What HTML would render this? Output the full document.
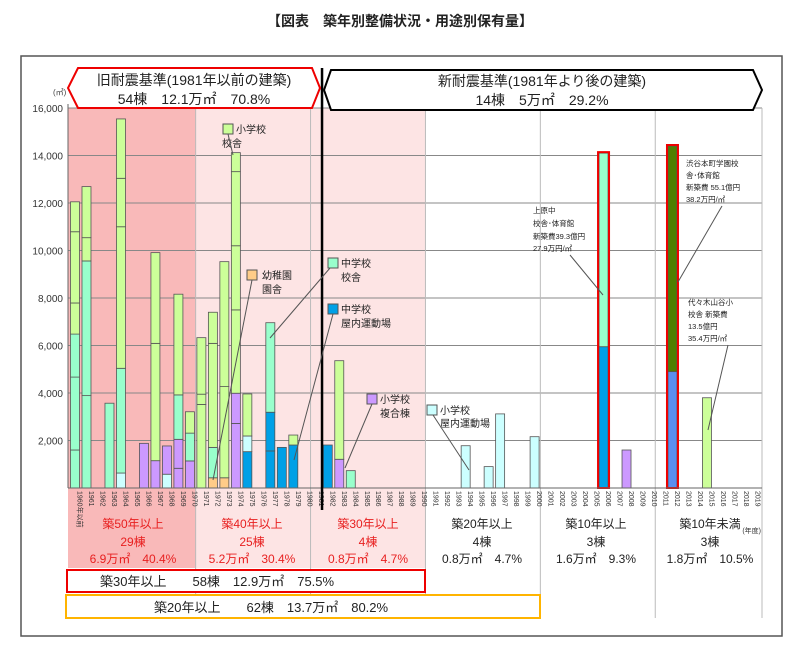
<!DOCTYPE html>
<html><head><meta charset="utf-8">
<style>
body{margin:0;background:#fff;}
svg{display:block;font-family:"Liberation Sans","Noto Sans CJK JP",sans-serif;}
</style></head>
<body>
<svg id="chart" width="800" height="658" viewBox="0 0 800 658" xmlns="http://www.w3.org/2000/svg">
<text x="400" y="26" text-anchor="middle" font-size="14" font-weight="bold" fill="#222">【図表　築年別整備状況・用途別保有量】</text>
<rect x="21" y="56" width="761" height="580" fill="none" stroke="#555" stroke-width="1.5"/>
<g id="bg"></g>
<g id="grid"></g>
<g id="bars"></g>
<g id="axes"></g>
<!-- headers -->
<polygon points="78,68 312,68 320,88 312,108 78,108 68,88" fill="#fff" stroke="#e00" stroke-width="2"/>
<text x="194" y="85" text-anchor="middle" font-size="14" fill="#222">旧耐震基準(1981年以前の建築)</text>
<text x="194" y="104" text-anchor="middle" font-size="14" fill="#222">54棟　12.1万㎡　70.8%</text>
<polygon points="331,70 753,70 762,90 753,110 331,110 324,90" fill="#fff" stroke="#000" stroke-width="2"/>
<text x="542" y="86" text-anchor="middle" font-size="14" fill="#222">新耐震基準(1981年より後の建築)</text>
<text x="542" y="105" text-anchor="middle" font-size="14" fill="#222">14棟　5万㎡　29.2%</text>
<!-- legend annotations -->
<g font-size="10" fill="#222">
<g><rect x="223" y="124" width="10" height="10" fill="#ccff99" stroke="#555"/><text x="236" y="133">小学校</text><text x="222" y="147">校舎</text><line x1="228" y1="134" x2="233" y2="155" stroke="#555"/></g>
<g><rect x="247" y="270" width="10" height="10" fill="#ffcc88" stroke="#555"/><text x="262" y="279">幼稚園</text><text x="262" y="293">園舎</text><line x1="252" y1="280" x2="213" y2="480" stroke="#555"/></g>
<g><rect x="328" y="258" width="10" height="10" fill="#99ffcc" stroke="#555"/><text x="341" y="267">中学校</text><text x="341" y="281">校舎</text><line x1="330" y1="268" x2="270" y2="338" stroke="#555"/></g>
<g><rect x="328" y="304" width="10" height="10" fill="#00a0e6" stroke="#555"/><text x="341" y="313">中学校</text><text x="341" y="327">屋内運動場</text><line x1="333" y1="314" x2="294" y2="460" stroke="#555"/></g>
<g><rect x="367" y="394" width="10" height="10" fill="#cc99ff" stroke="#555"/><text x="380" y="403">小学校</text><text x="380" y="417">複合棟</text><line x1="372" y1="404" x2="345" y2="468" stroke="#555"/></g>
<g><rect x="427" y="405" width="10" height="10" fill="#ccffff" stroke="#555"/><text x="440" y="414">小学校</text><text x="440" y="427">屋内運動場</text><line x1="433" y1="415" x2="469" y2="470" stroke="#555"/></g>
<g font-size="7.5"><text x="533" y="213">上原中</text><text x="533" y="226">校舎･体育館</text><text x="533" y="239">新築費39.3億円</text><text x="533" y="251">27.9万円/㎡</text><line x1="570" y1="255" x2="603" y2="295" stroke="#555"/></g>
<g font-size="7.5"><text x="686" y="166">渋谷本町学園校</text><text x="686" y="178">舎･体育館</text><text x="686" y="190">新築費 55.1億円</text><text x="686" y="202">38.2万円/㎡</text><line x1="722" y1="206" x2="678" y2="282" stroke="#555"/></g>
<g font-size="7.5"><text x="688" y="305">代々木山谷小</text><text x="688" y="317">校舎 新築費</text><text x="688" y="329">13.5億円</text><text x="688" y="341">35.4万円/㎡</text><line x1="728" y1="345" x2="708" y2="430" stroke="#555"/></g>
</g>
<!-- bottom age groups -->
<g font-size="12" text-anchor="middle">
<g fill="#e82020"><text x="133" y="528">築50年以上</text><text x="133" y="546">29棟</text><text x="133" y="563">6.9万㎡　40.4%</text></g>
<g fill="#e82020"><text x="252" y="528">築40年以上</text><text x="252" y="546">25棟</text><text x="252" y="563">5.2万㎡　30.4%</text></g>
<g fill="#e82020"><text x="368" y="528">築30年以上</text><text x="368" y="546">4棟</text><text x="368" y="563">0.8万㎡　4.7%</text></g>
<g fill="#222"><text x="482" y="528">築20年以上</text><text x="482" y="546">4棟</text><text x="482" y="563">0.8万㎡　4.7%</text></g>
<g fill="#222"><text x="596" y="528">築10年以上</text><text x="596" y="546">3棟</text><text x="596" y="563">1.6万㎡　9.3%</text></g>
<g fill="#222"><text x="710" y="528">築10年未満</text><text x="710" y="546">3棟</text><text x="710" y="563">1.8万㎡　10.5%</text></g>
</g>
<rect x="67" y="570" width="358" height="22" fill="#fff" stroke="#e00" stroke-width="2"/>
<text x="100" y="586" font-size="13" fill="#222">築30年以上　　58棟　12.9万㎡　75.5%</text>
<rect x="66" y="595" width="474" height="23" fill="#fff" stroke="#ffb400" stroke-width="2"/>
<text x="154" y="612" font-size="13" fill="#222">築20年以上　　62棟　13.7万㎡　80.2%</text>
</svg>
<script>
const years = [];
for (let y = 1960; y <= 2019; y++) years.push(y);
const yTicks = [2000, 4000, 6000, 8000, 10000, 12000, 14000, 16000];
const tickLabels = ["2,000", "4,000", "6,000", "8,000", "10,000", "12,000", "14,000", "16,000"];
const barYears = [1960,1961,1963,1964,1966,1967,1968,1969,1970,1971,1972,1973,1974,1975,1977,1978,1979,1982,1983,1984,1994,1996,1997,2000,2006,2008,2012,2015];
const barSegments = [
 [["t",1600],["t",3070],["t",1810],["g",1310],["g",3000],["g",1260]],
 [["t",3890],["t",5670],["g",980],["g",2150]],
 [["t",3570]],
 [["c",630],["t",4410],["g",5960],["g",2040],["g",2500]],
 [["p",1880]],
 [["p",1150],["g",4940],["g",3820]],
 [["c",580],["p",1190]],
 [["p",830],["p",1220],["t",1870],["g",4240]],
 [["p",1140],["t",1170],["g",900]],
 [["g",3520],["g",430],["g",2380]],
 [["o",430],["t",1280],["g",4380],["g",1310]],
 [["o",430],["g",3840],["g",5260]],
 [["p",2720],["p",1270],["g",3510],["g",2700],["g",3120],["g",800]],
 [["b",1530],["c",660],["g",1770]],
 [["b",1560],["b",1630],["t",3770]],
 [["b",1710]],
 [["b",1810],["g",420]],
 [["b",1810]],
 [["p",1210],["g",4150]],
 [["t",730]],
 [["c",1780]],
 [["c",900]],
 [["c",3120]],
 [["c",2160]],
 [["b",5950],["t",8150]],
 [["p",1600]],
 [["n",4900],["d",9500]],
 [["g",3800]]
];
const highlighted = [2006, 2012];
const colors = {g:"#ccff99",t:"#99ffcc",b:"#00a0e6",p:"#cc99ff",c:"#ccffff",o:"#ffcc88",d:"#4f7f00",n:"#5b8ef0"};

const NS = "http://www.w3.org/2000/svg";
const X0 = 75, DX = 11.49, Y0 = 488, YPX = 47.5 / 2000;
const xs = yr => X0 + (yr - 1960) * DX;
const ys = v => Y0 - v * YPX;
function mk(parent, tag, attrs) {
  const e = document.createElementNS(NS, tag);
  for (const k in attrs) e.setAttribute(k, attrs[k]);
  parent.appendChild(e);
  return e;
}
const bg = document.getElementById('bg'), grid = document.getElementById('grid'),
      bars = document.getElementById('bars'), axes = document.getElementById('axes');
const L = 68, R = 762, TOP = 108;
let r1 = mk(bg, 'rect', {x: L, y: TOP, width: xs(1970.5) - L, height: 568 - TOP, fill: "#f9b9b9"});


let r2 = mk(bg, 'rect', {x: xs(1970.5), y: TOP, width: xs(1990.5) - xs(1970.5), height: 568 - TOP, fill: "#fde4e4"});


yTicks.forEach((t, i) => {
  const l = mk(grid, 'line', {x1: L, x2: R, y1: ys(t), y2: ys(t), stroke: "#888", "stroke-width": 1});
  
  
  const tx = mk(axes, 'text', {x: 63, y: ys(t) + 4, "text-anchor": "end", "font-size": 10, fill: "#333"});
  tx.textContent = tickLabels[i];
  
  
});
[1970.5, 1980.5, 1990.5, 2000.5, 2010.5].forEach(b => {
  const l = mk(grid, 'line', {x1: xs(b), x2: xs(b), y1: TOP, y2: 618, stroke: "#bbb", "stroke-width": 1});
  
  
});
let rl = mk(grid, 'line', {x1: R, x2: R, y1: TOP, y2: 618, stroke: "#bbb"});


let ax = mk(axes, 'line', {x1: L, x2: L, y1: TOP - 4, y2: Y0, stroke: "#666"});


let bx = mk(axes, 'line', {x1: L, x2: R, y1: Y0, y2: Y0, stroke: "#666"});


let unit = mk(axes, 'text', {x: 53, y: 95, "font-size": 8, fill: "#444"});
unit.textContent = "(㎡)";


years.forEach((yr, i) => {
  const x = xs(yr);
  const t = mk(axes, 'text', {x: 0, y: 0, "font-size": 7, fill: "#333", transform: `translate(${x + 2.5},${Y0 + 3}) rotate(90)`});
  t.textContent = i === 0 ? "1960年以前" : String(yr);
  
  
});
let yl = mk(axes, 'text', {x: 761, y: 533, "text-anchor": "end", "font-size": 7, fill: "#333"});
yl.textContent = "(年度)";


const BW = 9;
barYears.forEach((yr, i) => {
  let cum = 0;
  const g = mk(bars, 'g', {});
  
  
  barSegments[i].forEach(([k, v]) => {
    const yTop = ys(cum + v), yBot = ys(cum);
    const r = mk(g, 'rect', {x: xs(yr) - BW / 2, y: yTop, width: BW, height: yBot - yTop, fill: colors[k], stroke: "#555", "stroke-width": 0.8});
    
    
    cum += v;
  });
  if (highlighted.includes(yr)) {
    const o = mk(g, 'rect', {x: xs(yr) - BW / 2 - 1, y: ys(cum) - 1, width: BW + 2, height: ys(0) - ys(cum) + 1, fill: "none", stroke: "#e00", "stroke-width": 2});
    
    
  }
});
let dv = mk(axes, 'line', {x1: xs(1981.5), x2: xs(1981.5), y1: 68, y2: 510, stroke: "#000", "stroke-width": 2.5});


</script>
</body></html>
